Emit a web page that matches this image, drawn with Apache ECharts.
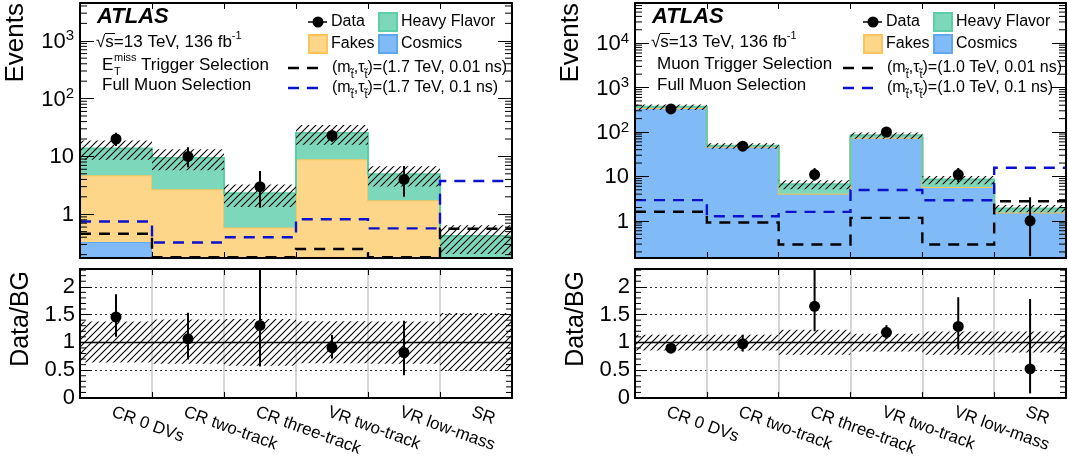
<!DOCTYPE html>
<html><head><meta charset="utf-8">
<script src="https://cdn.jsdelivr.net/npm/echarts@6/dist/echarts.min.js"></script>
<style>html,body{margin:0;padding:0;background:#fff}#c{width:1068px;height:457px}</style>
</head><body><div id="c"></div><script>
// ---------------- DATA ----------------
const categories = ['CR 0 DVs', 'CR two-track', 'CR three-track', 'VR two-track', 'VR low-mass', 'SR'];

// Left: E_T^miss trigger selection
const L_cosmics     = [0.33, 0, 0, 0, 0, 0];
const L_fakes       = [4.4, 2.7, 0.59, 8.9, 1.74, 0];
const L_heavyFlavor = [9.0, 6.7, 1.71, 16.5, 3.16, 0.42];
const L_data        = [20, 10, 3, 23, 4, null];
const L_dataErrLo   = [4.9, 3.5, 1.7, 5.0, 2.0, null];
const L_dataErrHi   = [5.6, 4.4, 2.6, 5.8, 2.8, null];
const L_bgRelErrLo  = [0.36, 0.386, 0.42, 0.374, 0.386, 0.51];
const L_bgRelErrHi  = [0.377, 0.41, 0.42, 0.38, 0.377, 0.53];
const L_sig001      = [0.46, 0.18, 0.18, 0.25, 0.18, 0.56];
const L_sig01       = [0.75, 0.325, 0.40, 0.82, 0.57, 3.75];

// Right: muon trigger selection
const R_cosmics     = [345, 46.6, 4.1, 74, 5.8, 1.54];
const R_fakes       = [0, 0, 0, 0, 0, 0];
const R_heavyFlavor = [23, 2.6, 2.57, 10.7, 2.75, 0.37];
const R_data        = [330, 48, 11, 100, 11, 1];
const R_dataErrLo   = [18, 6.9, 3.0, 10, 3.5, 0.84];
const R_dataErrHi   = [19, 7.9, 4.4, 11, 4.5, 2.4];
const R_bgRelErrLo  = [0.146, 0.146, 0.224, 0.164, 0.224, 0.182];
const R_bgRelErrHi  = [0.137, 0.137, 0.227, 0.155, 0.197, 0.197];
const R_sig001      = [1.6, 0.92, 0.295, 1.17, 0.295, 2.77];
const R_sig01       = [2.93, 1.27, 1.59, 4.95, 2.91, 15.7];

const L_yRange = [0.175, 4500];
const R_yRange = [0.146, 80000];
const ratioMax = 2.32;

// ---------------- STYLE ----------------
const FONT = "'Liberation Sans', Arial, Helvetica, sans-serif";
const C_HF = '#7dd8bb', C_HF_L = '#5dcea6';
const C_FK = '#fed68a', C_FK_L = '#fdc45c';
const C_CO = '#80bbf8', C_CO_L = '#5ea8f2';
const C_SIG1 = '#000000', C_SIG2 = '#0c12cc';
const FLOOR = 1e-3;

function hatchPattern() {
  const s = 7, c = document.createElement('canvas');
  c.width = s; c.height = s;
  const g = c.getContext('2d');
  g.strokeStyle = '#000'; g.lineWidth = 1.1;
  g.beginPath();
  g.moveTo(-1, s + 1); g.lineTo(s + 1, -1);
  g.moveTo(-1, 1); g.lineTo(1, -1);
  g.moveTo(s - 1, s + 1); g.lineTo(s + 1, s - 1);
  g.stroke();
  return c;
}
const HATCH = { image: hatchPattern(), repeat: 'repeat' };

function binEdges(api, i) {
  const c = api.coord([i, 1])[0];
  const w = api.size([1, 1], [i, 1])[0];
  return [c - w / 2, c + w / 2];
}

function layerSeries(xi, yi, lower, upper, fill, stroke) {
  return {
    type: 'custom', xAxisIndex: xi, yAxisIndex: yi, clip: true, silent: true, z: 1,
    data: [[0, 1]],
    renderItem(params, api) {
      const top = [], bot = [];
      for (let i = 0; i < upper.length; i++) {
        const lo = Math.max(lower[i], FLOOR), hi = Math.max(upper[i], FLOOR);
        const [x0, x1] = binEdges(api, i);
        const yT = api.coord([i, hi])[1], yB = api.coord([i, lo])[1];
        top.push([x0, yT], [x1, yT]);
        bot.push([x0, yB], [x1, yB]);
      }
      return { type: 'group', children: [
        { type: 'polygon', shape: { points: top.concat(bot.slice().reverse()) }, style: { fill: fill, stroke: null } },
        { type: 'polyline', shape: { points: top }, style: { fill: null, stroke: stroke, lineWidth: 2 } }
      ]};
    }
  };
}

function stepLineSeries(xi, yi, values, color) {
  return {
    type: 'custom', xAxisIndex: xi, yAxisIndex: yi, clip: true, silent: true, z: 3,
    data: [[0, 1]],
    renderItem(params, api) {
      const pts = [];
      for (let i = 0; i < values.length; i++) {
        const [x0, x1] = binEdges(api, i);
        const y = api.coord([i, Math.max(values[i], FLOOR)])[1];
        pts.push([x0, y], [x1, y]);
      }
      return { type: 'polyline', shape: { points: pts },
        style: { fill: null, stroke: color, lineWidth: 2.4, lineDash: [11, 8] } };
    }
  };
}

function bandSeries(xi, yi, lows, highs, z) {
  return {
    type: 'custom', xAxisIndex: xi, yAxisIndex: yi, clip: true, silent: true, z: z,
    data: lows.map((l, i) => [i, l, highs[i]]),
    renderItem(params, api) {
      const i = api.value(0);
      const [x0, x1] = binEdges(api, i);
      const yT = api.coord([i, api.value(2)])[1], yB = api.coord([i, api.value(1)])[1];
      return { type: 'rect', shape: { x: x0, y: yT, width: x1 - x0, height: yB - yT },
        style: { fill: HATCH, stroke: null } };
    }
  };
}

function errBarSeries(xi, yi, vals, lo, hi, z) {
  const d = [];
  vals.forEach((v, i) => { if (v != null) d.push([i, Math.max(v - lo[i], FLOOR), v + hi[i]]); });
  return {
    type: 'custom', xAxisIndex: xi, yAxisIndex: yi, clip: true, silent: true, z: z,
    data: d,
    renderItem(params, api) {
      const i = api.value(0);
      const a = api.coord([i, api.value(1)]), b = api.coord([i, api.value(2)]);
      return { type: 'line', shape: { x1: a[0], y1: a[1], x2: b[0], y2: b[1] },
        style: { stroke: '#000', lineWidth: 2 } };
    }
  };
}

function pointSeries(xi, yi, vals, z) {
  const d = [];
  vals.forEach((v, i) => { if (v != null) d.push([i, v]); });
  return { type: 'scatter', xAxisIndex: xi, yAxisIndex: yi, data: d, symbol: 'circle',
    symbolSize: 11, itemStyle: { color: '#000', opacity: 1 }, z: z, silent: true, clip: true };
}

function minorTickSeries(xi, yi, values, len) {
  return {
    type: 'custom', xAxisIndex: xi, yAxisIndex: yi, clip: false, silent: true, z: 11,
    data: values.map(v => [0, v]),
    renderItem(params, api) {
      const cs = params.coordSys;
      const y = api.coord([0, api.value(1)])[1];
      return { type: 'group', children: [
        { type: 'line', shape: { x1: cs.x, y1: y, x2: cs.x + len, y2: y }, style: { stroke: '#000', lineWidth: 1 } },
        { type: 'line', shape: { x1: cs.x + cs.width - len, y1: y, x2: cs.x + cs.width, y2: y }, style: { stroke: '#000', lineWidth: 1 } }
      ]};
    }
  };
}

function lineAtOneSeries(xi, yi) {
  return {
    type: 'custom', xAxisIndex: xi, yAxisIndex: yi, clip: true, silent: true, z: 3,
    data: [[0, 1]],
    renderItem(params, api) {
      const cs = params.coordSys;
      const y = api.coord([0, 1])[1];
      return { type: 'line', shape: { x1: cs.x, y1: y, x2: cs.x + cs.width, y2: y },
        style: { stroke: '#000', lineWidth: 1.5 } };
    }
  };
}

function logMinors(range) {
  const out = [];
  for (let e = -2; e <= 6; e++) for (let m = 2; m <= 9; m++) {
    const v = m * Math.pow(10, e);
    if (v > range[0] && v < range[1]) out.push(v);
  }
  return out;
}
const ratioMinors = [];
for (let k = 1; k * 0.1 < ratioMax; k++) if (k % 5 !== 0) ratioMinors.push(+(k * 0.1).toFixed(2));

// ---------------- AXES ----------------
const grids = [
  { left: 80, top: 3, width: 432, height: 255 },
  { left: 80, top: 269, width: 432, height: 129 },
  { left: 635, top: 3, width: 431, height: 255 },
  { left: 635, top: 269, width: 431, height: 129 }
].map(g => Object.assign(g, { containLabel: false, outerBoundsMode: 'none' }));

const frameLine = { show: true, onZero: false, lineStyle: { color: '#000', width: 2 } };
const xAxes = [], yAxes = [];
for (let g = 0; g < 4; g++) {
  const isRatio = g % 2 === 1;
  ['bottom', 'top'].forEach(pos => {
    xAxes.push({
      type: 'category', gridIndex: g, data: categories, position: pos, boundaryGap: true,
      z: isRatio ? 1 : 10,
      axisLine: frameLine,
      axisTick: { show: true, inside: true, length: 6, interval: 0, lineStyle: { color: '#000', width: 1 } },
      axisLabel: (isRatio && pos === 'bottom') ? {
        show: true, interval: 0, rotate: -20, fontSize: 17, fontFamily: FONT, color: '#000', margin: 15,
        padding: [0, 0, 0, -4]
      } : { show: false },
      splitLine: (isRatio && pos === 'bottom') ? { show: true, interval: 0, lineStyle: { color: '#c8c8c8', width: 1.5 } } : { show: false }
    });
  });
  ['left', 'right'].forEach(pos => {
    if (!isRatio) {
      const range = g === 0 ? L_yRange : R_yRange;
      yAxes.push({
        type: 'log', logBase: 10, gridIndex: g, position: pos, min: range[0], max: range[1], z: 10,
        axisLine: frameLine,
        axisTick: { show: true, inside: true, length: 14, lineStyle: { color: '#000', width: 1 } },
        axisLabel: pos === 'left' ? {
          show: true, margin: 6, color: '#000', fontFamily: FONT,
          formatter: v => {
            const lg = Math.log10(v), e = Math.round(lg);
            if (Math.abs(lg - e) > 1e-6 || e < 0) return '';
            if (e === 0) return '{b|1}';
            if (e === 1) return '{b|10}';
            return '{b|10}{sup|' + e + '}';
          },
          rich: {
            b: { fontSize: 22, fontFamily: FONT, color: '#000', lineHeight: 24, verticalAlign: 'bottom' },
            sup: { fontSize: 15, fontFamily: FONT, color: '#000', lineHeight: 24, verticalAlign: 'top' }
          }
        } : { show: false },
        splitLine: { show: false }
      });
    } else {
      yAxes.push({
        type: 'value', gridIndex: g, position: pos, min: 0, max: ratioMax, interval: 0.5, z: 1,
        axisLine: frameLine,
        axisTick: { show: true, inside: true, length: 12, lineStyle: { color: '#000', width: 1 } },
        axisLabel: pos === 'left' ? {
          show: true, margin: 5, fontSize: 22, fontFamily: FONT, color: '#000',
          formatter: v => (v > 2.01 ? '' : String(v))
        } : { show: false },
        splitLine: pos === 'left' ? { show: true, lineStyle: { type: [2, 3], color: '#333', width: 1 } } : { show: false }
      });
    }
  });
}

// ---------------- SERIES ----------------
function sum(a, b) { return a.map((v, i) => v + b[i]); }
const series = [];
function buildPanel(p, P) {
  const xi = 4 * p, yi = 4 * p;         // top grid (2p): bottom x axis / left y axis
  const xr = 4 * p + 2, yr = 4 * p + 2; // ratio grid (2p+1)
  const zeros = P.cosmics.map(() => FLOOR);
  const c1 = P.cosmics, c2 = sum(c1, P.fakes), tot = sum(c2, P.hf);
  series.push(layerSeries(xi, yi, zeros, c1, C_CO, C_CO_L));
  series.push(layerSeries(xi, yi, c1, c2, C_FK, C_FK_L));
  series.push(layerSeries(xi, yi, c2, tot, C_HF, C_HF_L));
  series.push(bandSeries(xi, yi, tot.map((t, i) => t * (1 - P.relLo[i])), tot.map((t, i) => t * (1 + P.relHi[i])), 2));
  series.push(stepLineSeries(xi, yi, P.sigA, C_SIG1));
  series.push(stepLineSeries(xi, yi, P.sigB, C_SIG2));
  series.push(errBarSeries(xi, yi, P.data, P.errLo, P.errHi, 4));
  series.push(pointSeries(xi, yi, P.data, 5));
  series.push(minorTickSeries(xi, yi, logMinors(P.range), 7));
  // ratio panel
  const ratio = P.data.map((d, i) => d == null ? null : d / tot[i]);
  const rLo = P.errLo.map((e, i) => e == null ? null : e / tot[i]);
  const rHi = P.errHi.map((e, i) => e == null ? null : e / tot[i]);
  series.push(bandSeries(xr, yr, P.relLo.map(r => 1 - r), P.relHi.map(r => 1 + r), 2));
  series.push(lineAtOneSeries(xr, yr));
  series.push(errBarSeries(xr, yr, ratio, rLo, rHi, 4));
  series.push(pointSeries(xr, yr, ratio, 5));
  series.push(minorTickSeries(xr, yr, ratioMinors, 6));
}
buildPanel(0, { cosmics: L_cosmics, fakes: L_fakes, hf: L_heavyFlavor, data: L_data, errLo: L_dataErrLo, errHi: L_dataErrHi,
  relLo: L_bgRelErrLo, relHi: L_bgRelErrHi, sigA: L_sig001, sigB: L_sig01, range: L_yRange });
buildPanel(1, { cosmics: R_cosmics, fakes: R_fakes, hf: R_heavyFlavor, data: R_data, errLo: R_dataErrLo, errHi: R_dataErrHi,
  relLo: R_bgRelErrLo, relHi: R_bgRelErrHi, sigA: R_sig001, sigB: R_sig01, range: R_yRange });

// ---------------- TEXT / LEGEND ----------------
function txt(x, y, text, size, extra) {
  return Object.assign({ type: 'text', x: x, y: y, z: 20,
    style: Object.assign({ text: text, fontSize: size, fontFamily: FONT, fill: '#000', align: 'left', verticalAlign: 'middle' }, extra || {}) });
}
function richTxt(x, y, text, rich) {
  return { type: 'text', x: x, y: y, z: 20, style: { text: text, fontFamily: FONT, fill: '#000', align: 'left', verticalAlign: 'middle', rich: rich } };
}
const subRich = {
  n: { fontSize: 16, fontFamily: FONT, color: '#000', lineHeight: 24, verticalAlign: 'middle' },
  s: { fontSize: 11, fontFamily: FONT, color: '#000', lineHeight: 24, verticalAlign: 'bottom' }
};
const supRich = {
  n: { fontSize: 17, fontFamily: FONT, color: '#000', lineHeight: 24, verticalAlign: 'middle' },
  s: { fontSize: 11, fontFamily: FONT, color: '#000', lineHeight: 24, verticalAlign: 'top' }
};
const graphics = [];
function header(ox, mass, line1) {
  graphics.push(txt(ox + 97, 17, 'ATLAS', 22, { fontWeight: 'bold', fontStyle: 'italic' }));
  graphics.push(richTxt(ox + 96, 42, '{n|√s=13 TeV, 136 fb}{s|-1}', supRich));
  graphics.push({ type: 'line', z: 20, shape: { x1: ox + 105, y1: 33.5, x2: ox + 115, y2: 33.5 }, style: { stroke: '#000', lineWidth: 1 } });
  if (line1 === 'met') {
    graphics.push(txt(ox + 102, 65, 'E', 17));
    graphics.push(txt(ox + 114, 58, 'miss', 11));
    graphics.push(txt(ox + 114, 72, 'T', 11));
    graphics.push(txt(ox + 141, 65, 'Trigger Selection', 17));
  } else {
    graphics.push(txt(ox + 102, 64, 'Muon Trigger Selection', 17));
  }
  graphics.push(txt(ox + 102, 85, 'Full Muon Selection', 17));
  // legend
  graphics.push({ type: 'line', z: 20, shape: { x1: ox + 308, y1: 22, x2: ox + 327, y2: 22 }, style: { stroke: '#000', lineWidth: 1.5 } });
  graphics.push({ type: 'circle', z: 20, shape: { cx: ox + 318, cy: 22, r: 5.5 }, style: { fill: '#000' } });
  graphics.push(txt(ox + 331, 22, 'Data', 16));
  graphics.push({ type: 'rect', z: 20, shape: { x: ox + 379, y: 13, width: 18, height: 18 }, style: { fill: C_HF, stroke: C_HF_L, lineWidth: 2 } });
  graphics.push(txt(ox + 401, 22, 'Heavy Flavor', 16));
  graphics.push({ type: 'rect', z: 20, shape: { x: ox + 309, y: 35, width: 18, height: 18 }, style: { fill: C_FK, stroke: C_FK_L, lineWidth: 2 } });
  graphics.push(txt(ox + 331, 44, 'Fakes', 16));
  graphics.push({ type: 'rect', z: 20, shape: { x: ox + 379, y: 35, width: 18, height: 18 }, style: { fill: C_CO, stroke: C_CO_L, lineWidth: 2 } });
  graphics.push(txt(ox + 401, 44, 'Cosmics', 16));
  graphics.push({ type: 'line', z: 20, shape: { x1: ox + 288, y1: 68, x2: ox + 323, y2: 68 }, style: { stroke: C_SIG1, lineWidth: 2.4, lineDash: [11, 8] } });
  graphics.push(richTxt(ox + 332, 68, '{n|(m}{s|t̃}{n|,τ}{s|t̃}{n|)=(' + mass + ' TeV, 0.01 ns)}', subRich));
  graphics.push({ type: 'line', z: 20, shape: { x1: ox + 288, y1: 88, x2: ox + 323, y2: 88 }, style: { stroke: C_SIG2, lineWidth: 2.4, lineDash: [11, 8] } });
  graphics.push(richTxt(ox + 332, 88, '{n|(m}{s|t̃}{n|,τ}{s|t̃}{n|)=(' + mass + ' TeV, 0.1 ns)}', subRich));
  // axis titles
  graphics.push({ type: 'text', x: ox + 16, y: 3, rotation: Math.PI / 2, z: 20,
    style: { text: 'Events', fontSize: 26, fontFamily: FONT, fill: '#000', align: 'right', verticalAlign: 'middle' } });
  graphics.push({ type: 'text', x: ox + 21, y: 271, rotation: Math.PI / 2, z: 20,
    style: { text: 'Data/BG', fontSize: 25, fontFamily: FONT, fill: '#000', align: 'right', verticalAlign: 'middle' } });
}
header(0, '1.7', 'met');
header(555, '1.0', 'muon');

const chart = echarts.init(document.getElementById('c'), null, { renderer: 'canvas' });
chart.setOption({
  animation: false,
  backgroundColor: '#fff',
  grid: grids,
  xAxis: xAxes,
  yAxis: yAxes,
  series: series,
  graphic: graphics
});
</script></body></html>
